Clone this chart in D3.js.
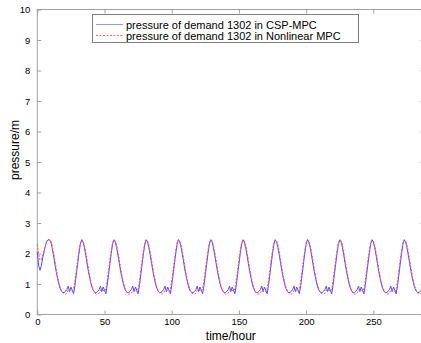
<!DOCTYPE html>
<html>
<head>
<meta charset="utf-8">
<script src="https://cdn.jsdelivr.net/npm/d3@7"></script>
<style>
  body { margin: 0; background: #fff; }
  svg { display: block; font-family: "Liberation Sans", Arial, sans-serif; }
</style>
</head>
<body>
<div id="chart"></div>
<script>
// hourly pressure (m) at demand 1302, hours 0..288, one row per day
const cspMpc = [
  2.05, 1.6, 1.45, 1.6, 1.85, 2.05, 2.25, 2.4, 2.45, 2.45, 2.38, 2.2, 1.95, 1.68, 1.42, 1.2, 1.0, 0.85, 0.76, 0.72, 0.72, 0.76, 0.82, 0.93,
  0.75, 0.9, 0.8, 0.68, 0.95, 1.3, 1.65, 2.0, 2.3, 2.45, 2.38, 2.2, 1.95, 1.68, 1.42, 1.2, 1.0, 0.85, 0.76, 0.72, 0.72, 0.76, 0.82, 0.93,
  0.75, 0.9, 0.8, 0.68, 0.95, 1.3, 1.65, 2.0, 2.3, 2.45, 2.38, 2.2, 1.95, 1.68, 1.42, 1.2, 1.0, 0.85, 0.76, 0.72, 0.72, 0.76, 0.82, 0.93,
  0.75, 0.9, 0.8, 0.68, 0.95, 1.3, 1.65, 2.0, 2.3, 2.45, 2.38, 2.2, 1.95, 1.68, 1.42, 1.2, 1.0, 0.85, 0.76, 0.72, 0.72, 0.76, 0.82, 0.93,
  0.75, 0.9, 0.8, 0.68, 0.95, 1.3, 1.65, 2.0, 2.3, 2.45, 2.38, 2.2, 1.95, 1.68, 1.42, 1.2, 1.0, 0.85, 0.76, 0.72, 0.72, 0.76, 0.82, 0.93,
  0.75, 0.9, 0.8, 0.68, 0.95, 1.3, 1.65, 2.0, 2.3, 2.45, 2.38, 2.2, 1.95, 1.68, 1.42, 1.2, 1.0, 0.85, 0.76, 0.72, 0.72, 0.76, 0.82, 0.93,
  0.75, 0.9, 0.8, 0.68, 0.95, 1.3, 1.65, 2.0, 2.3, 2.45, 2.38, 2.2, 1.95, 1.68, 1.42, 1.2, 1.0, 0.85, 0.76, 0.72, 0.72, 0.76, 0.82, 0.93,
  0.75, 0.9, 0.8, 0.68, 0.95, 1.3, 1.65, 2.0, 2.3, 2.45, 2.38, 2.2, 1.95, 1.68, 1.42, 1.2, 1.0, 0.85, 0.76, 0.72, 0.72, 0.76, 0.82, 0.93,
  0.75, 0.9, 0.8, 0.68, 0.95, 1.3, 1.65, 2.0, 2.3, 2.45, 2.38, 2.2, 1.95, 1.68, 1.42, 1.2, 1.0, 0.85, 0.76, 0.72, 0.72, 0.76, 0.82, 0.93,
  0.75, 0.9, 0.8, 0.68, 0.95, 1.3, 1.65, 2.0, 2.3, 2.45, 2.38, 2.2, 1.95, 1.68, 1.42, 1.2, 1.0, 0.85, 0.76, 0.72, 0.72, 0.76, 0.82, 0.93,
  0.75, 0.9, 0.8, 0.68, 0.95, 1.3, 1.65, 2.0, 2.3, 2.45, 2.38, 2.2, 1.95, 1.68, 1.42, 1.2, 1.0, 0.85, 0.76, 0.72, 0.72, 0.76, 0.82, 0.93,
  0.75, 0.9, 0.8, 0.68, 0.95, 1.3, 1.65, 2.0, 2.3, 2.45, 2.38, 2.2, 1.95, 1.68, 1.42, 1.2, 1.0, 0.85, 0.76, 0.72, 0.72, 0.76, 0.82, 0.93,
  0.75
];
const nonlinearMpc = [
  2.3, 2.0, 1.78, 1.8, 1.95, 2.1, 2.25, 2.38, 2.45, 2.45, 2.42, 2.28, 2.05, 1.8, 1.52, 1.28, 1.05, 0.9, 0.78, 0.7, 0.67, 0.67, 0.7, 0.8,
  0.78, 0.8, 0.75, 0.85, 1.1, 1.45, 1.8, 2.1, 2.35, 2.45, 2.42, 2.28, 2.05, 1.8, 1.52, 1.28, 1.05, 0.9, 0.78, 0.7, 0.67, 0.67, 0.7, 0.8,
  0.78, 0.8, 0.75, 0.85, 1.1, 1.45, 1.8, 2.1, 2.35, 2.45, 2.42, 2.28, 2.05, 1.8, 1.52, 1.28, 1.05, 0.9, 0.78, 0.7, 0.67, 0.67, 0.7, 0.8,
  0.78, 0.8, 0.75, 0.85, 1.1, 1.45, 1.8, 2.1, 2.35, 2.45, 2.42, 2.28, 2.05, 1.8, 1.52, 1.28, 1.05, 0.9, 0.78, 0.7, 0.67, 0.67, 0.7, 0.8,
  0.78, 0.8, 0.75, 0.85, 1.1, 1.45, 1.8, 2.1, 2.35, 2.45, 2.42, 2.28, 2.05, 1.8, 1.52, 1.28, 1.05, 0.9, 0.78, 0.7, 0.67, 0.67, 0.7, 0.8,
  0.78, 0.8, 0.75, 0.85, 1.1, 1.45, 1.8, 2.1, 2.35, 2.45, 2.42, 2.28, 2.05, 1.8, 1.52, 1.28, 1.05, 0.9, 0.78, 0.7, 0.67, 0.67, 0.7, 0.8,
  0.78, 0.8, 0.75, 0.85, 1.1, 1.45, 1.8, 2.1, 2.35, 2.45, 2.42, 2.28, 2.05, 1.8, 1.52, 1.28, 1.05, 0.9, 0.78, 0.7, 0.67, 0.67, 0.7, 0.8,
  0.78, 0.8, 0.75, 0.85, 1.1, 1.45, 1.8, 2.1, 2.35, 2.45, 2.42, 2.28, 2.05, 1.8, 1.52, 1.28, 1.05, 0.9, 0.78, 0.7, 0.67, 0.67, 0.7, 0.8,
  0.78, 0.8, 0.75, 0.85, 1.1, 1.45, 1.8, 2.1, 2.35, 2.45, 2.42, 2.28, 2.05, 1.8, 1.52, 1.28, 1.05, 0.9, 0.78, 0.7, 0.67, 0.67, 0.7, 0.8,
  0.78, 0.8, 0.75, 0.85, 1.1, 1.45, 1.8, 2.1, 2.35, 2.45, 2.42, 2.28, 2.05, 1.8, 1.52, 1.28, 1.05, 0.9, 0.78, 0.7, 0.67, 0.67, 0.7, 0.8,
  0.78, 0.8, 0.75, 0.85, 1.1, 1.45, 1.8, 2.1, 2.35, 2.45, 2.42, 2.28, 2.05, 1.8, 1.52, 1.28, 1.05, 0.9, 0.78, 0.7, 0.67, 0.67, 0.7, 0.8,
  0.78, 0.8, 0.75, 0.85, 1.1, 1.45, 1.8, 2.1, 2.35, 2.45, 2.42, 2.28, 2.05, 1.8, 1.52, 1.28, 1.05, 0.9, 0.78, 0.7, 0.67, 0.67, 0.7, 0.8,
  0.78
];
const xTicks = [0, 50, 100, 150, 200, 250];
const yTicks = [0, 1, 2, 3, 4, 5, 6, 7, 8, 9, 10];
const seriesNames = [
  "pressure of demand 1302 in CSP-MPC",
  "pressure of demand 1302 in Nonlinear MPC"
];

var w = 421;
var h = 343;
var axisColor = "#a0a0a0";

// plot box (right edge falls just outside the picture)
var plotLeft = 37.3, plotRight = 424.4, plotTop = 9.5, plotBottom = 314.5;

const svg = d3.select("#chart").append("svg")
  .attr("width", w)
  .attr("height", h);

const x = d3.scaleLinear().domain([0, 288]).range([plotLeft, plotRight]);
const y = d3.scaleLinear().domain([0, 10]).range([plotBottom, plotTop]);

// box
svg.append("rect")
  .attr("x", plotLeft).attr("y", plotTop)
  .attr("width", plotRight - plotLeft).attr("height", plotBottom - plotTop)
  .attr("fill", "none")
  .attr("stroke", axisColor)
  .attr("stroke-width", 1);

// axes with inward ticks
function styleAxis(g) {
  g.select(".domain").remove();
  g.selectAll(".tick line").attr("stroke", axisColor);
  g.selectAll(".tick text")
    .attr("fill", "#000")
    .style("font-size", "9.5px")
    .style("font-family", "Liberation Sans, Arial, sans-serif");
}

svg.append("g")
  .attr("transform", "translate(0," + plotBottom + ")")
  .call(d3.axisBottom(x).tickValues(xTicks).tickSizeInner(-4).tickSizeOuter(0).tickPadding(4))
  .call(styleAxis);

svg.append("g")
  .attr("transform", "translate(0," + plotTop + ")")
  .call(d3.axisTop(x).tickValues(xTicks).tickSizeInner(-4).tickSizeOuter(0).tickFormat(""))
  .call(styleAxis);

svg.append("g")
  .attr("transform", "translate(" + plotLeft + ",0)")
  .call(d3.axisLeft(y).tickValues(yTicks).tickSizeInner(-4).tickSizeOuter(0).tickPadding(7))
  .call(styleAxis);

svg.append("g")
  .attr("transform", "translate(" + plotRight + ",0)")
  .call(d3.axisRight(y).tickValues(yTicks).tickSizeInner(-4).tickSizeOuter(0).tickFormat(""))
  .call(styleAxis);

// lines
const line = d3.line()
  .x((d, i) => x(i))
  .y((d) => y(d));

svg.append("path")
  .datum(cspMpc)
  .attr("d", line)
  .attr("fill", "none")
  .attr("stroke", "#4d4dff")
  .attr("stroke-width", 1);

svg.append("path")
  .datum(nonlinearMpc)
  .attr("d", line)
  .attr("fill", "none")
  .attr("stroke", "#ff5555")
  .attr("stroke-width", 1)
  .attr("stroke-dasharray", "2,1.5");

// axis titles
svg.append("text")
  .attr("x", (plotLeft + plotRight) / 2)
  .attr("y", 339.5)
  .attr("text-anchor", "middle")
  .style("font-size", "12px")
  .text("time/hour");

svg.append("text")
  .attr("transform", "translate(19,150) rotate(-90)")
  .attr("text-anchor", "middle")
  .style("font-size", "12px")
  .text("pressure/m");

// legend
const legend = svg.append("g");
legend.append("rect")
  .attr("x", 92.5).attr("y", 14.5)
  .attr("width", 266).attr("height", 28)
  .attr("fill", "#fff")
  .attr("stroke", "#808080")
  .attr("stroke-width", 1);

const legendColors = ["#9999e6", "#ff6666"];
const legendDashes = ["none", "2,1.5"];
seriesNames.forEach(function (name, i) {
  var ly = 24.5 + i * 11;
  legend.append("line")
    .attr("x1", 96).attr("x2", 123)
    .attr("y1", ly).attr("y2", ly)
    .attr("stroke", legendColors[i])
    .attr("stroke-width", 1)
    .attr("stroke-dasharray", legendDashes[i]);
  legend.append("text")
    .attr("x", 126)
    .attr("y", ly + 4)
    .style("font-size", "11px")
    .text(name);
});
</script>
</body>
</html>
